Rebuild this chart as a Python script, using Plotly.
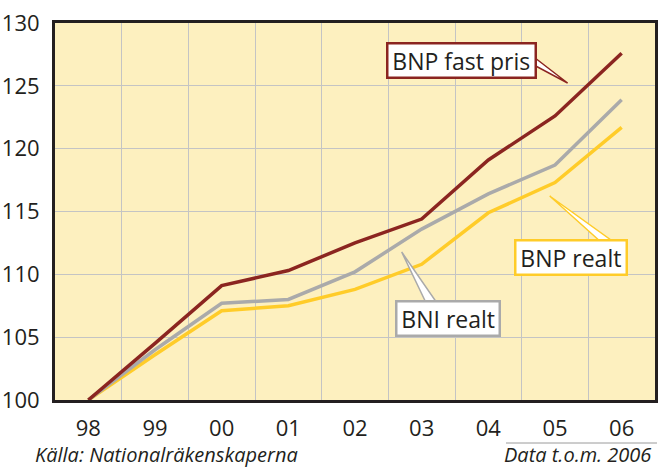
import plotly.graph_objects as go

years = ["98", "99", "00", "01", "02", "03", "04", "05", "06"]
bnp_fast_pris = [100.0, 104.5, 109.1, 110.3, 112.5, 114.4, 119.1, 122.6, 127.6]
bni_realt = [100.0, 104.0, 107.7, 108.0, 110.2, 113.6, 116.4, 118.7, 123.9]
bnp_realt = [100.0, 103.6, 107.1, 107.5, 108.8, 110.8, 114.9, 117.3, 121.7]
y_ticks = [100, 105, 110, 115, 120, 125, 130]

MAROON = "#8B2520"
GRAY = "#AAAAAA"
YELLOW = "#FFCC29"
INK = "#231F20"
FONT = "Open Sans"

L, T, W, H = 54, 23, 604, 377


def px(x):
    return (x - L) / W


def py(y):
    return (T + H - y) / H


xs = list(range(len(years)))
fig = go.Figure()
for vals, col in [(bnp_realt, YELLOW), (bni_realt, GRAY), (bnp_fast_pris, MAROON)]:
    fig.add_trace(go.Scatter(x=xs, y=vals, mode="lines",
                             line=dict(color=col, width=3.5), hoverinfo="skip",
                             showlegend=False))


def wedge(tip, b1, b2, col):
    path = (f"M {px(b1[0])} {py(b1[1])} L {px(tip[0])} {py(tip[1])} "
            f"L {px(b2[0])} {py(b2[1])} Z")
    fig.add_shape(type="path", path=path, xref="paper", yref="paper",
                  fillcolor="white", line=dict(color=col, width=1.5), layer="above")


wedge((570, 83), (536, 57), (536, 65), MAROON)
wedge((552, 196), (608, 246), (622, 246), YELLOW)
wedge((403, 252), (430, 308), (442, 308), GRAY)


def label(text, cx, cy, col):
    fig.add_annotation(text="\u2009" + text + "\u2009", x=px(cx), y=py(cy),
                       xref="paper", yref="paper",
                       xanchor="center", yanchor="middle", showarrow=False,
                       font=dict(family=FONT, size=23, color=INK),
                       bgcolor="white", bordercolor=col, borderwidth=2.5,
                       borderpad=0)


label("BNP fast pris", 463.5, 60, MAROON)
label("BNP realt", 573.5, 257, YELLOW)
label("BNI realt", 450, 318.5, GRAY)

fig.add_annotation(text="<i>Källa: Nationalräkenskaperna</i>", x=px(32), y=py(454),
                   xref="paper", yref="paper", xanchor="left", yanchor="middle",
                   showarrow=False, font=dict(family=FONT, size=20, color=INK))
fig.add_annotation(text="<i>Data t.o.m. 2006</i>", x=px(656), y=py(454),
                   xref="paper", yref="paper", xanchor="right", yanchor="middle",
                   showarrow=False, font=dict(family=FONT, size=20, color=INK))
fig.add_shape(type="line", x0=px(508), x1=px(660), y0=py(443), y1=py(443),
              xref="paper", yref="paper", line=dict(color="#9A9A9A", width=1))

fig.update_layout(
    width=660, height=468,
    margin=dict(l=L, r=660 - L - W, t=T, b=468 - T - H),
    paper_bgcolor="white", plot_bgcolor="#FDF0BF",
    font=dict(family=FONT, size=20, color=INK),
)
fig.update_xaxes(range=[-0.5, len(years) - 0.5], tickvals=xs, ticktext=years,
                 showgrid=False, showline=True, linecolor=INK, linewidth=3,
                 mirror=True, ticks="", ticklabelstandoff=7, zeroline=False,
                 tickfont=dict(size=22, color=INK),
                 minor=dict(tickvals=[i + 0.5 for i in xs[:-1]], showgrid=True,
                            gridcolor="#C4C4C4", gridwidth=1.2, ticks=""))
fig.update_yaxes(range=[y_ticks[0], y_ticks[-1]], tickvals=y_ticks,
                 showgrid=True, gridcolor="#C4C4C4", gridwidth=1.2,
                 showline=True, linecolor=INK, linewidth=3, mirror=True,
                 ticks="", ticklabelstandoff=8, zeroline=False,
                 tickfont=dict(size=22, color=INK))

fig.write_html("out.html", config={"displayModeBar": False},
               post_script="document.body.style.margin='0';document.body.style.padding='0';document.body.style.overflow='hidden';")
